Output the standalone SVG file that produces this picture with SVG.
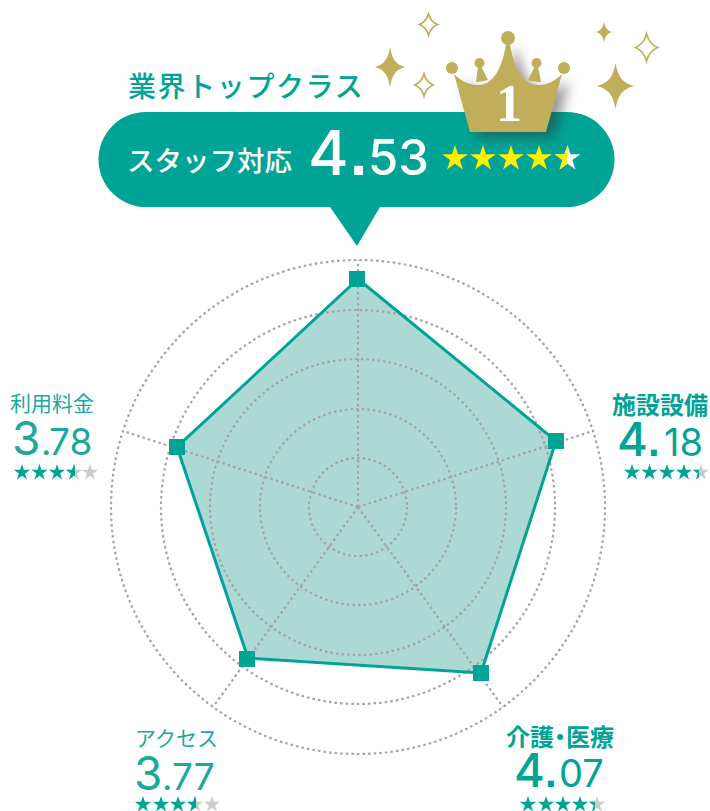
<svg xmlns="http://www.w3.org/2000/svg" width="710" height="811" viewBox="0 0 710 811">
<style>
.ring{fill:none;stroke:#a3a3a3;stroke-width:2.200;stroke-dasharray:2.500 3.100}
.sq{fill:#00a496}
.jp{font-family:"Noto Sans CJK JP","Noto Sans",sans-serif}
.num{font-family:"Inter","Liberation Sans",sans-serif}
.dot{font-family:"Liberation Sans",sans-serif;font-weight:700}
.b{font-weight:700;fill:#00a496}
.l{font-weight:400;fill:#1aa99c}
.gold{fill:#c1ae5b}
.out{fill:none;stroke:#c1ae5b;stroke-width:1.800}
</style>
<defs>
<polygon id="s" points="0,-1 0.225,-0.309 0.951,-0.309 0.363,0.118 0.588,0.809 0,0.382 -0.588,0.809 -0.363,0.118 -0.951,-0.309 -0.225,-0.309"/>
<path id="sp" d="M0,-1C0.14,-0.38 0.38,-0.14 1,0C0.38,0.14 0.14,0.38 0,1C-0.14,0.38 -0.38,0.14 -1,0C-0.38,-0.14 -0.14,-0.38 0,-1Z"/>
<path id="spo" vector-effect="non-scaling-stroke" d="M0,-1C0.2,-0.45 0.45,-0.2 1,0C0.45,0.2 0.2,0.45 0,1C-0.2,0.45 -0.45,0.2 -1,0C-0.45,-0.2 -0.2,-0.45 0,-1Z"/>
<filter id="sh" x="-30%" y="-30%" width="170%" height="170%"><feGaussianBlur stdDeviation="6"/></filter>
<clipPath id="cTop"><rect x="550" y="140" width="17.500" height="40"/></clipPath>
<clipPath id="cL"><rect x="60" y="460" width="15" height="25"/></clipPath>
<clipPath id="cR"><rect x="690" y="460" width="9" height="25"/></clipPath>
<clipPath id="cBL"><rect x="185" y="790" width="11" height="25"/></clipPath>
<clipPath id="cBR"><rect x="585" y="790" width="10" height="25"/></clipPath>
</defs>
<rect width="710" height="811" fill="#fff"/>
<g id="chart">
<polygon points="358,279 556,441 481,673 248,658 177,447" fill="#acd9d3"/>
<g id="connectors">
<circle class="ring" cx="358" cy="507" r="49"/><circle class="ring" cx="358" cy="507" r="98"/><circle class="ring" cx="358" cy="507" r="148"/><circle class="ring" cx="358" cy="507" r="197"/><circle class="ring" cx="358" cy="507" r="247"/>
<path class="ring" d="M358,507V260M358,507L593,431M358,507L503,707M358,507L213,707M358,507L123,431"/>
</g>
<polygon points="358,279 556,441 481,673 248,658 177,447" fill="none" stroke="#00a496" stroke-width="3"/>
</g>
<g id="node-top-point"><rect class="sq" x="349" y="271" width="16" height="16"/></g>
<g id="node-right-point"><rect class="sq" x="548" y="433" width="16" height="16"/></g>
<g id="node-br-point"><rect class="sq" x="473" y="665" width="16" height="16"/></g>
<g id="node-bl-point"><rect class="sq" x="239" y="651" width="16" height="16"/></g>
<g id="node-left-point"><rect class="sq" x="169" y="439" width="16" height="16"/></g>

<g id="node-bubble">
<text class="jp b" x="128" y="97" font-size="28" letter-spacing="1.600" style="font-weight:500">業界トップクラス</text>
<path class="sq" d="M146,112H567A47.500,47.500 0 0 1 567,207H380L357,246L330,207H146A47.500,47.500 0 0 1 146,112Z"/>
<text class="jp" x="127" y="171" font-size="27.500" font-weight="500" fill="#fff">スタッフ対応</text>
<text class="num" x="308" y="175" font-size="62" font-weight="500" fill="#fff">4</text>
<text class="dot" x="350" y="175" font-size="62" fill="#fff">.</text>
<text class="num" x="368" y="175" font-size="49" font-weight="500" fill="#fff">53</text>
<g fill="#fff000">
<use href="#s" transform="translate(455,158.500) scale(13.500)"/><use href="#s" transform="translate(483,158.500) scale(13.500)"/><use href="#s" transform="translate(511,158.500) scale(13.500)"/><use href="#s" transform="translate(539,158.500) scale(13.500)"/>
</g>
<use href="#s" transform="translate(567.500,158.500) scale(13.500)" fill="#fff"/>
<g clip-path="url(#cTop)"><use href="#s" transform="translate(567.500,158.500) scale(13.500)" fill="#fff000"/></g>
</g>

<g id="node-crown">
<path d="M454,74C461,81 469,85 477,85C492,86 502,70 506,44H510C514,70 524,86 539,85C547,85 555,81 562,74L546,132H470Z" fill="#333" opacity=".5" filter="url(#sh)" transform="translate(8,6)"/>
<path class="gold" d="M454,74C461,81 469,85 477,85C492,86 502,70 506,44H510C514,70 524,86 539,85C547,85 555,81 562,74L546,132H470Z"/>
<circle class="gold" cx="508" cy="38" r="7"/><circle class="gold" cx="452" cy="68" r="6"/><circle class="gold" cx="564" cy="68" r="6"/>
<circle class="gold" cx="479.500" cy="63" r="5"/><circle class="gold" cx="536.500" cy="63" r="5"/>
<path class="gold" d="M478,66H481L488,80Q481,82 476,82ZM535,66H538L541,82Q536,82 528,80Z"/>
<text x="509" y="121" text-anchor="middle" font-family="Liberation Serif,serif" font-size="52" font-weight="700" fill="#fff">1</text>
</g>

<g id="node-sparkles">
<use class="gold" href="#sp" transform="translate(390,67) scale(15,20)"/>
<use class="gold" href="#sp" transform="translate(604,32) scale(8.500,10.500)"/>
<use class="gold" href="#sp" transform="translate(615.500,86) scale(18.500,23)"/>
<use class="out" href="#spo" transform="translate(428.500,24.500) scale(9,10.500)"/>
<use class="out" href="#spo" transform="translate(424,85) scale(9,11)"/>
<use class="out" href="#spo" transform="translate(646.500,47.500) scale(11,13.500)"/>
</g>

<g id="node-left">
<text class="jp l" x="10" y="411" font-size="21">利用料金</text>
<text class="num l" x="12" y="455" font-size="46" font-weight="300">3</text>
<text class="num l" x="41" y="455" font-size="36" font-weight="300">.</text>
<text class="num l" x="49" y="455" font-size="37" font-weight="300">78</text>
<g fill="#ccc"><use href="#s" transform="translate(74,472.500) scale(8.600)"/><use href="#s" transform="translate(90,472.500) scale(8.600)"/></g>
<g class="sq"><use href="#s" transform="translate(22,472.500) scale(8.600)"/><use href="#s" transform="translate(39.500,472.500) scale(8.600)"/><use href="#s" transform="translate(57,472.500) scale(8.600)"/><g clip-path="url(#cL)"><use href="#s" transform="translate(74,472.500) scale(8.600)"/></g></g>
</g>

<g id="node-right">
<text class="jp b" x="612" y="414" font-size="24">施設設備</text>
<text class="num b" x="617" y="456" font-size="47" style="font-weight:500">4</text>
<text class="dot b" x="648" y="456" font-size="42">.</text>
<text class="num b" x="664" y="456" font-size="38" style="font-weight:400">18</text>
<g fill="#ccc"><use href="#s" transform="translate(701,472.500) scale(8.600)"/></g>
<g class="sq"><use href="#s" transform="translate(632,472.500) scale(8.600)"/><use href="#s" transform="translate(649.500,472.500) scale(8.600)"/><use href="#s" transform="translate(667,472.500) scale(8.600)"/><use href="#s" transform="translate(684,472.500) scale(8.600)"/><g clip-path="url(#cR)"><use href="#s" transform="translate(701,472.500) scale(8.600)"/></g></g>
</g>

<g id="node-bl">
<text class="jp l" x="135" y="746" font-size="21">アクセス</text>
<text class="num l" x="134" y="790" font-size="46" font-weight="300">3</text>
<text class="num l" x="162" y="790" font-size="36" font-weight="300">.</text>
<text class="num l" x="172" y="790" font-size="37" font-weight="300">77</text>
<g fill="#ccc"><use href="#s" transform="translate(195,804.500) scale(8.600)"/><use href="#s" transform="translate(212,804.500) scale(8.600)"/></g>
<g class="sq"><use href="#s" transform="translate(143,804.500) scale(8.600)"/><use href="#s" transform="translate(161,804.500) scale(8.600)"/><use href="#s" transform="translate(178,804.500) scale(8.600)"/><g clip-path="url(#cBL)"><use href="#s" transform="translate(195,804.500) scale(8.600)"/></g></g>
</g>

<g id="node-br">
<text class="jp b" x="506" y="746" font-size="24">介護<tspan x="548">・</tspan><tspan x="566">医療</tspan></text>
<text class="num b" x="514" y="787" font-size="47" style="font-weight:500">4</text>
<text class="dot b" x="545" y="787" font-size="42">.</text>
<text class="num b" x="559" y="787" font-size="38" style="font-weight:400">07</text>
<g fill="#ccc"><use href="#s" transform="translate(597,804.500) scale(8.600)"/></g>
<g class="sq"><use href="#s" transform="translate(528,804.500) scale(8.600)"/><use href="#s" transform="translate(546,804.500) scale(8.600)"/><use href="#s" transform="translate(563,804.500) scale(8.600)"/><use href="#s" transform="translate(580,804.500) scale(8.600)"/><g clip-path="url(#cBR)"><use href="#s" transform="translate(597,804.500) scale(8.600)"/></g></g>
</g>
</svg>
